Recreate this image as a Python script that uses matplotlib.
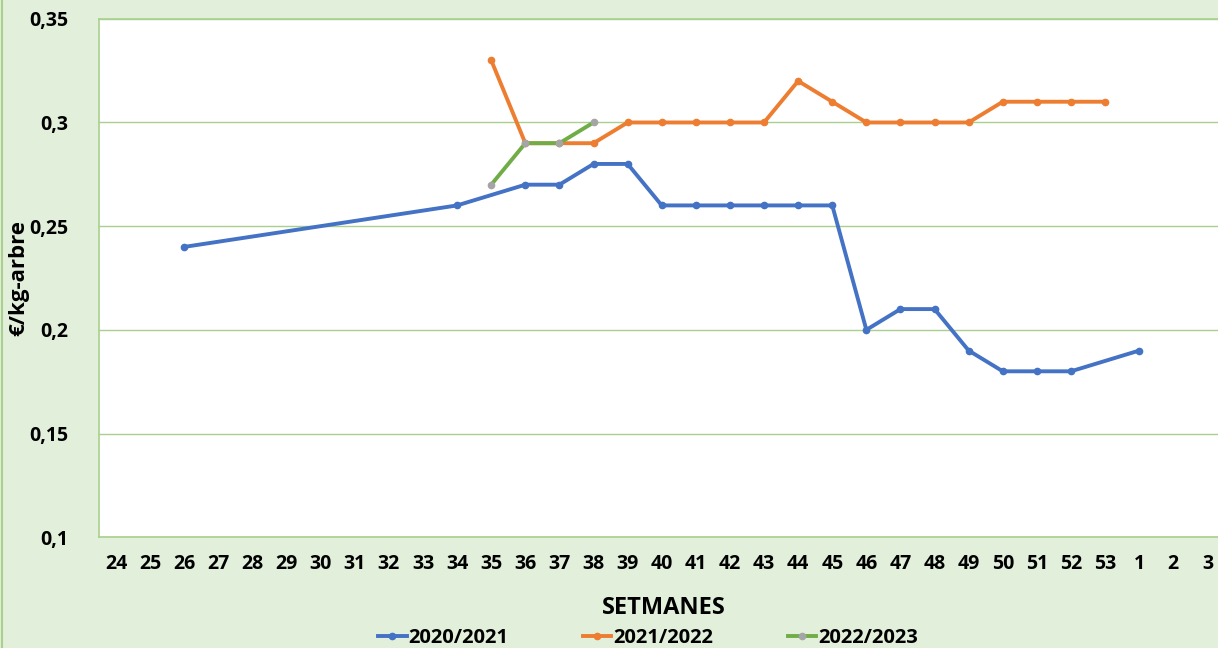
import matplotlib
matplotlib.use("Agg")
import matplotlib.pyplot as plt
import numpy as np
from matplotlib.lines import Line2D
from matplotlib.patches import Rectangle

weeks = [str(w) for w in range(24, 54)] + ["1", "2", "3"]

nan = np.nan
# one value per week label, NaN where the season has no price
season_2020 = [nan, nan, 0.24, nan, nan, nan, nan, nan, nan, nan, 0.26, nan,
               0.27, 0.27, 0.28, 0.28, 0.26, 0.26, 0.26, 0.26, 0.26, 0.26,
               0.20, 0.21, 0.21, 0.19, 0.18, 0.18, 0.18, nan, 0.19, nan, nan]
season_2021 = [nan] * 11 + [0.33, 0.29, 0.29, 0.29, 0.30, 0.30, 0.30, 0.30,
                            0.30, 0.32, 0.31, 0.30, 0.30, 0.30, 0.30, 0.31,
                            0.31, 0.31, 0.31, nan, nan, nan]
season_2022 = [nan] * 11 + [0.27, 0.29, 0.29, 0.30] + [nan] * 18

series = [
    ("2020/2021", season_2020, "#4472C4", "#4472C4"),
    ("2021/2022", season_2021, "#ED7D31", "#ED7D31"),
    ("2022/2023", season_2022, "#70AD47", "#A5A5A5"),
]

BG = "#E2EFDA"
GRID = "#A9D08E"
FONT = ["Open Sans", "DejaVu Sans"]

plt.rcParams["font.family"] = FONT
plt.rcParams["font.weight"] = "bold"

fig = plt.figure(figsize=(12.18, 6.48), dpi=100, facecolor=BG)
fig.patches.append(Rectangle((0.002, -0.01), 1.2, 1.2, transform=fig.transFigure,
                             fill=False, edgecolor=GRID, linewidth=1.5))
ax = fig.add_axes([0.0813, 0.171, 0.924, 0.800])
ax.set_facecolor("white")

x = np.arange(len(weeks))
handles = []
for label, values, line_color, marker_color in series:
    values = np.array(values, dtype=float)
    mask = ~np.isnan(values)
    ax.plot(x[mask], values[mask], color=line_color, linewidth=2.8,
            marker="o", markersize=4.5, markerfacecolor=marker_color,
            markeredgecolor=marker_color, zorder=3)
    handles.append(Line2D([], [], color=line_color, linewidth=2.8, marker="o",
                          markersize=4.5, markerfacecolor=marker_color,
                          markeredgecolor=marker_color, label=label))

ax.set_xlim(-0.5, len(weeks) - 0.5)
ax.set_ylim(0.1, 0.35)
ax.set_yticks([0.1, 0.15, 0.2, 0.25, 0.3, 0.35])
ax.set_yticklabels(["0,1", "0,15", "0,2", "0,25", "0,3", "0,35"])
ax.set_xticks(x)
ax.set_xticklabels(weeks)
ax.tick_params(axis="both", length=0, labelsize=14)
ax.tick_params(axis="x", pad=12)
ax.tick_params(axis="y", pad=22)
for lbl in ax.get_xticklabels() + ax.get_yticklabels():
    lbl.set_fontweight("bold")

ax.yaxis.grid(True, color=GRID, linewidth=1)
ax.set_axisbelow(True)
for side in ["top", "left", "bottom", "right"]:
    ax.spines[side].set_color(GRID)
    ax.spines[side].set_linewidth(1.2)

ax.set_ylabel("€/kg-arbre", fontsize=16, fontweight="bold")
ax.yaxis.set_label_coords(-0.062, 0.5)
fig.text(0.545, 0.062, "SETMANES", ha="center", va="center",
         fontsize=17, fontweight="bold")

fig.legend(handles=handles, loc="center", bbox_to_anchor=(0.532, 0.015),
           ncol=3, frameon=False, columnspacing=3.7,
           handlelength=1.4, handletextpad=0.1,
           prop={"weight": "bold", "size": 14.5, "family": FONT})

fig.savefig("out.png", dpi=100, facecolor=BG)
